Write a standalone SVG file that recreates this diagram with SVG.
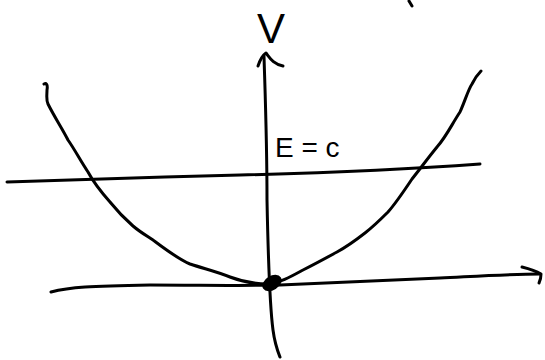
<svg xmlns="http://www.w3.org/2000/svg" width="545" height="360" viewBox="0 0 545 360">
<style>
.ink{fill:none;stroke:#000;stroke-width:3;stroke-linecap:round;stroke-linejoin:round}
.hand{font-family:"Liberation Sans",Arial,sans-serif;fill:#000}
</style>
<rect width="545" height="360" fill="#fff"/>
<g id="stray-mark"><path class="ink" d="M409,1 L412,6"/></g>
<g id="v-axis">
<path class="ink" d="M264,56 C265,90 267,140 267,200 C268,250 269,300 273,330 C275,345 278,352 280,357"/>
<path class="ink" d="M258,66 C260,60 263,55 266,53 C270,58 273,64 283,66"/>
</g>
<g id="x-axis">
<path class="ink" d="M51,292 C70,287 90,286 150,285 C200,285 240,286 280,285 C330,283 380,281 440,278 C480,276 510,274 540,274"/>
<path class="ink" d="M522,267 C530,269 536,271 541,274 C541,278 540,281 539,283"/>
</g>
<g id="energy-line">
<path class="ink" d="M7,182 C60,180 160,177 240,175 C320,173 400,170 480,164"/>
</g>
<g id="parabola">
<path class="ink" d="M44,84 C46,83 48,84 47,90 C47,95 46,100 48,104 C55,118 62,128 68,140 C75,150 80,160 88,172 C95,185 102,193 110,202 C118,212 125,219 133,226 C140,232 147,236 153,240 C165,249 178,259 190,264 C205,269 215,271 230,277 C243,282 255,284 268,284 C280,283 292,276 303,270 C315,264 326,258 337,252 C348,246 356,240 365,233 C374,226 381,219 388,212 C396,203 404,191 412,179 C420,169 428,158 437,147 C446,137 452,124 460,112 C465,101 468,90 472,84 C475,78 478,74 481,71"/>
</g>
<g id="origin-dot">
<ellipse cx="272" cy="283" rx="9" ry="5.5" transform="rotate(-32 272 283)" fill="#000" stroke="#000" stroke-width="3"/>
</g>
<g id="labels">
<text class="hand" x="271" y="43" font-size="42" text-anchor="middle">V</text>
<text class="hand" x="275" y="157" font-size="28">E = c</text>
</g>
</svg>
